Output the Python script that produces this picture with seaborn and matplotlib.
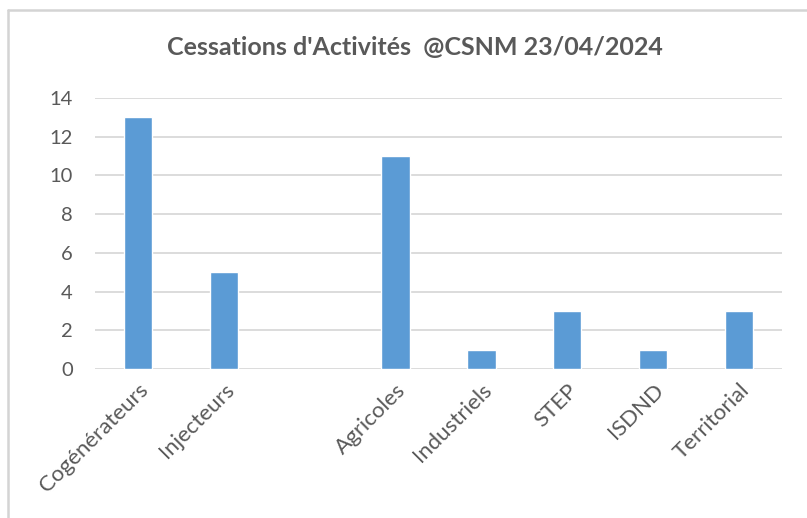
import matplotlib
matplotlib.use("Agg")
import matplotlib.pyplot as plt
import seaborn as sns
import pandas as pd
from matplotlib.lines import Line2D

categories = ["Cogénérateurs", "Injecteurs", " ", "Agricoles", "Industriels", "STEP", "ISDND", "Territorial"]
bar_categories = ["Cogénérateurs", "Injecteurs", "Agricoles", "Industriels", "STEP", "ISDND", "Territorial"]
values = [13, 5, 11, 1, 3, 1, 3]
title = "Cessations d'Activités  @CSNM 23/04/2024"

sns.set_theme(style="white")
plt.rcParams['font.family'] = ['Lato', 'DejaVu Sans']

df = pd.DataFrame({"cat": bar_categories, "val": values})

fig = plt.figure(figsize=(8.07, 5.18), dpi=100)
ax = fig.add_axes([95/807, 1-369/518, (782-95)/807, (369-98)/518])

sns.barplot(data=df, x="cat", y="val", order=categories, color="#5b9bd5",
            width=0.33, ax=ax, saturation=1, zorder=3)

ax.set_ylim(0, 14)
ax.set_yticks(range(0, 15, 2))
ax.yaxis.grid(True, color="#d9d9d9", linewidth=1.3, zorder=0)
ax.set_axisbelow(True)
for s in ax.spines.values():
    s.set_visible(False)
ax.set_xlabel("")
ax.set_ylabel("")
ax.tick_params(axis="y", length=0, pad=16, labelsize=14.5, labelcolor="#595959")
ax.tick_params(axis="x", length=0, pad=8, labelsize=16, labelcolor="#595959")
plt.setp(ax.get_xticklabels(), rotation=45, ha="right", rotation_mode="anchor")

fig.text(415/807, 1-47/518, title, ha="center", va="center",
         fontsize=18, fontweight="bold", color="#595959")

top = 1 - 10/518
left = 8/807
fig.add_artist(Line2D([left, 1.0], [top, top], transform=fig.transFigure,
                      color="#d4d4d4", linewidth=1.8))
fig.add_artist(Line2D([left, left], [0.0, top], transform=fig.transFigure,
                      color="#d4d4d4", linewidth=1.8))

fig.savefig("out.png", dpi=100, facecolor="white")
